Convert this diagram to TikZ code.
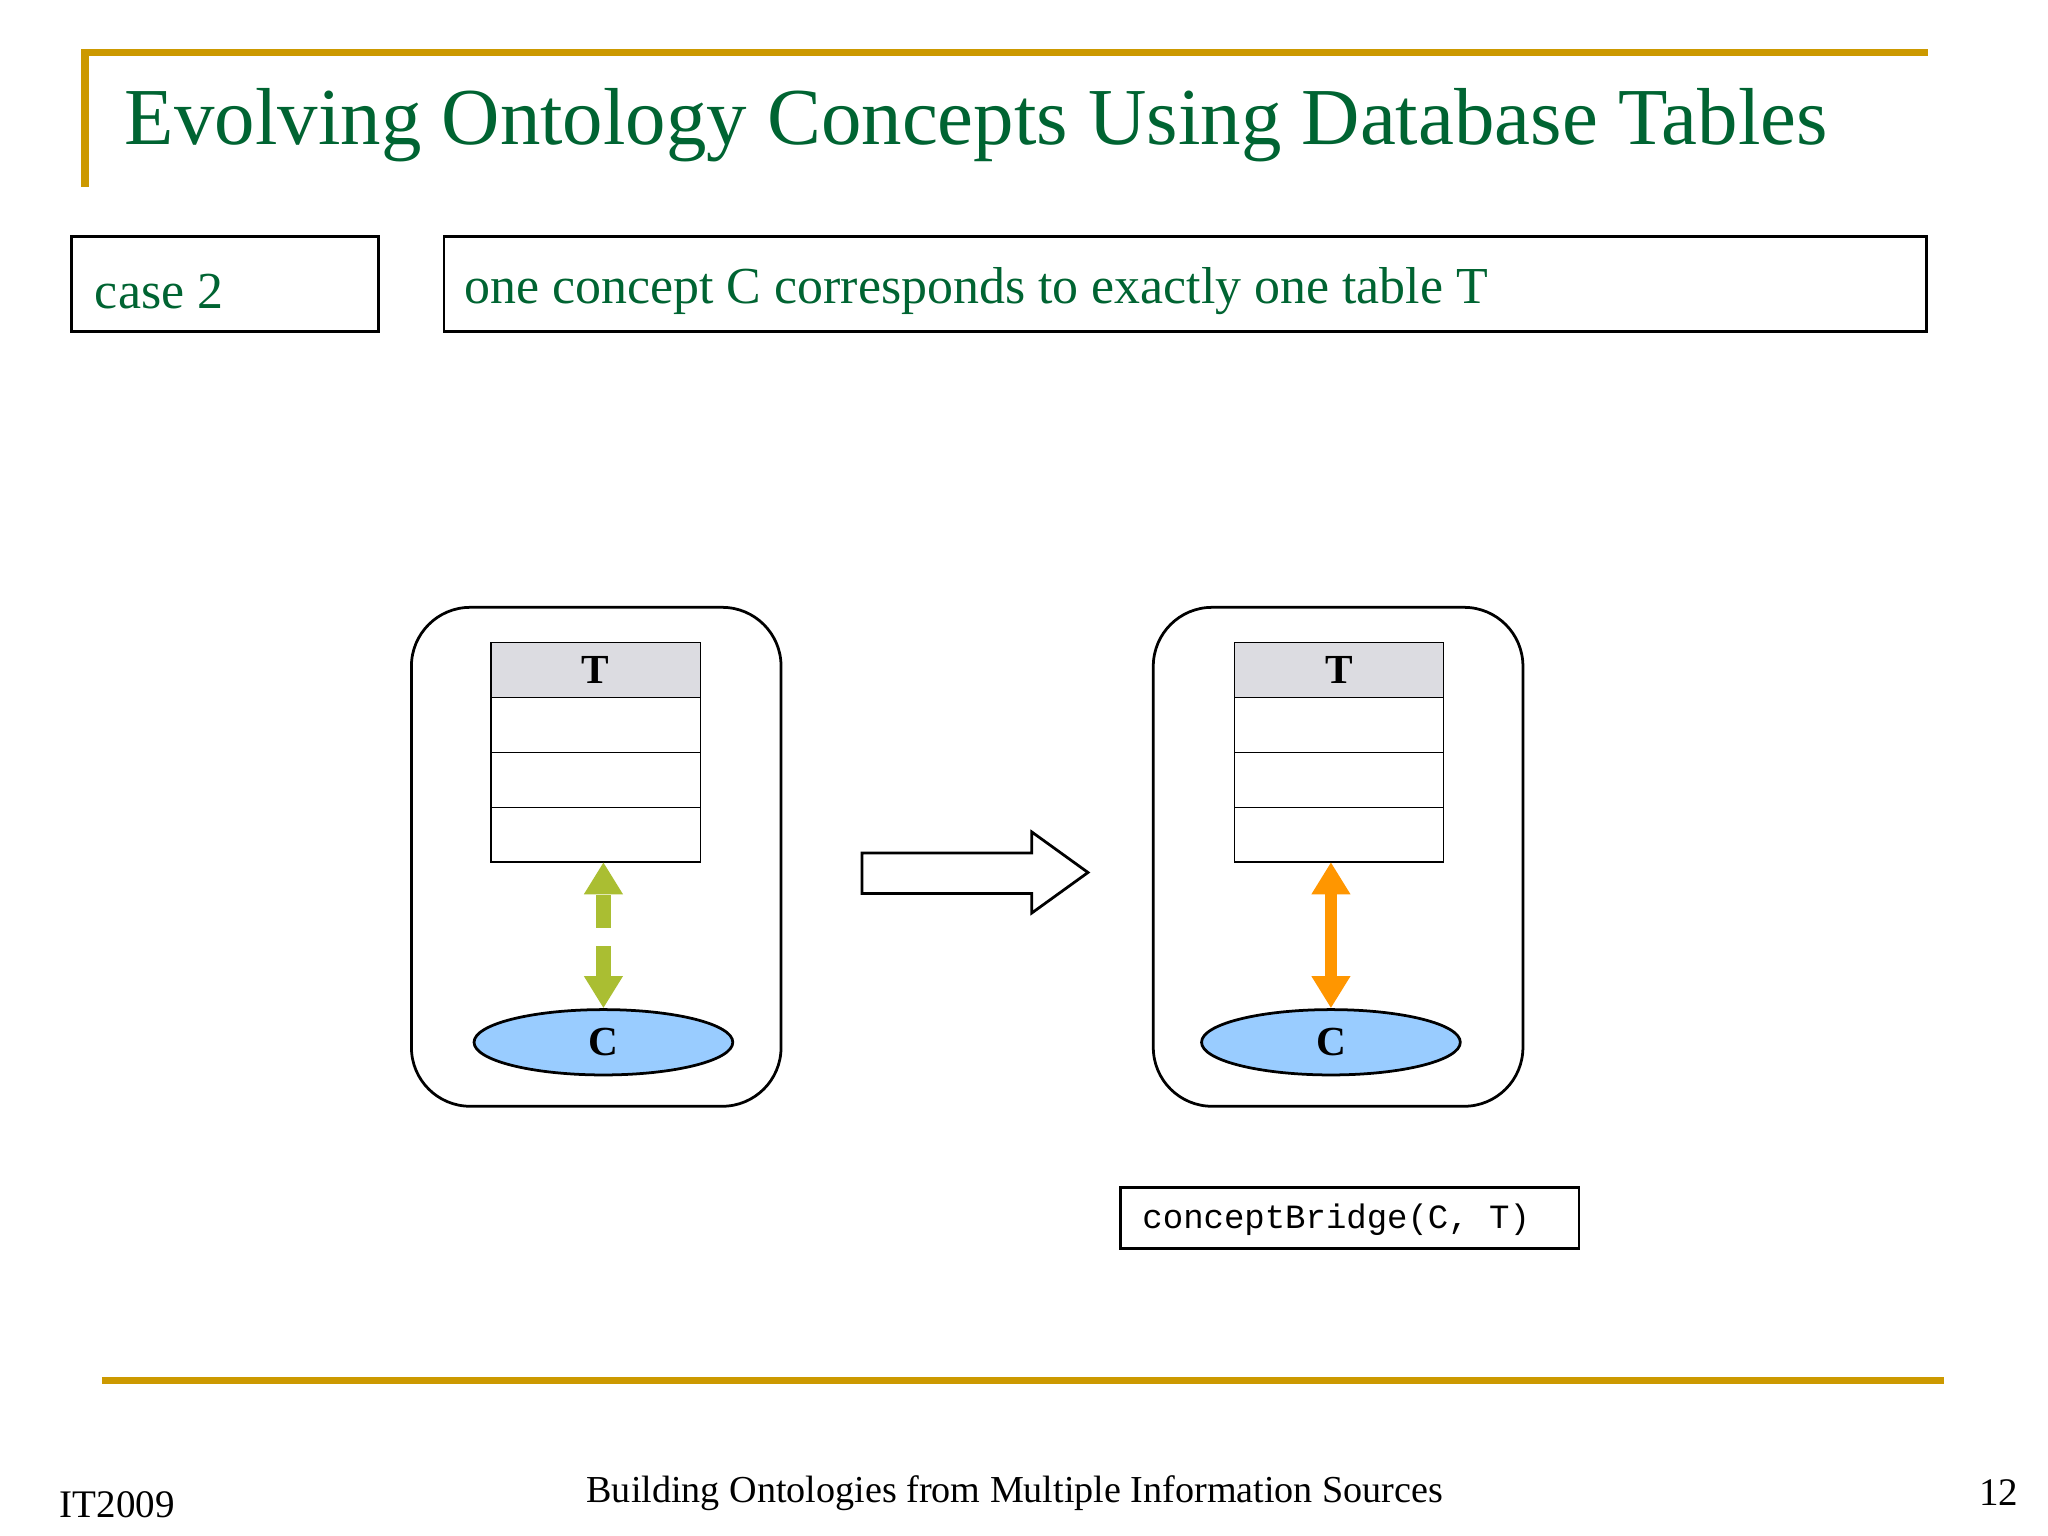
\documentclass[tikz,border=0pt]{standalone}
\usepackage{fontspec}
\setmainfont{Liberation Serif}
\setmonofont{Liberation Mono}
\usetikzlibrary{shapes.geometric,arrows.meta}
\definecolor{ttl}{RGB}{0,100,50}
\definecolor{gold}{RGB}{204,153,0}
\definecolor{cblue}{RGB}{153,204,255}
\definecolor{agreen}{RGB}{170,190,50}
\definecolor{aorange}{RGB}{255,150,0}
\definecolor{hdr}{RGB}{220,220,225}
\begin{document}
\begin{tikzpicture}[x=0.01cm,y=-0.01cm,
  lbl/.style={draw,line width=0.6pt,inner sep=0pt},
  cell/.style={draw,line width=0.3pt,minimum width=1.6cm,minimum height=0.42cm,inner sep=0pt,outer sep=0pt},
  conc/.style={ellipse,draw,fill=cblue,line width=0.6pt,minimum width=1.98cm,minimum height=0.5cm,inner sep=0pt,font=\fontsize{9}{10}\selectfont\bfseries},
  frame/.style={draw,line width=0.6pt,rounded corners=0.45cm},
  tip/.style={{Triangle[length=7pt,width=8pt]}-{Triangle[length=7pt,width=8pt]}}]
\useasboundingbox[fill=white] (0,0) rectangle (1568,1176);
% title decoration
\draw[gold,line width=1.6pt] (65,143) -- (65,40) -- (1476,40);
\node[anchor=west,inner sep=0pt,text=ttl,font=\fontsize{17.6}{20}\selectfont] (title) at (95,96) {Evolving Ontology Concepts Using Database Tables};
\draw[gold,line width=1.6pt] (78,1057) -- (1488,1057);
% labels
\draw[line width=0.6pt] (55,181) rectangle (290,254);
\node[anchor=west,inner sep=0pt,text=ttl,font=\fontsize{11.3}{13}\selectfont] (case) at (72,223) {case 2};
\draw[line width=0.6pt] (340,181) rectangle (1475,254);
\node[anchor=west,inner sep=0pt,text=ttl,font=\fontsize{11.3}{13}\selectfont] (desc) at (355,223) {one concept C corresponds to exactly one table T};
% frames
\draw[frame] (315,465) rectangle (598,847);
\draw[frame] (883,465) rectangle (1166,847);
% tables
\foreach \p/\dx in {L/0,R/569}{
  \node[cell,fill=hdr,font=\fontsize{9}{10}\selectfont\bfseries,anchor=north west] (h\p) at (376+\dx,492) {T};
  \node[cell,anchor=north] (ra\p) at (h\p.south) {};
  \node[cell,anchor=north] (rb\p) at (ra\p.south) {};
  \node[cell,anchor=north] (rc\p) at (rb\p.south) {};
}
\node[conc] (cL) at (462,798) {C};
\node[conc] (cR) at (1019,798) {C};
\draw[agreen,line width=3.2pt,dash pattern=on 7pt off 4pt,tip] (cL.north) -- (cL.north |- rcL.south);
\draw[aorange,line width=2.6pt,tip] (cR.north) -- (cR.north |- rcR.south);
% big arrow
\draw[line width=0.6pt,fill=white] (660,653) -- (790,653) -- (790,637) -- (833,668) -- (790,699) -- (790,684) -- (660,684) -- cycle;
% bridge
\draw[line width=0.6pt] (858,909) rectangle (1209,956);
\node[anchor=west,inner sep=0pt,font=\fontsize{7.4}{9}\selectfont\ttfamily] (br) at (874,934) {conceptBridge(C, T)};
% footer
\node[anchor=west,inner sep=0pt,font=\fontsize{8.5}{10}\selectfont] (ft1) at (45,1152) {IT2009};
\node[inner sep=0pt,font=\fontsize{8.3}{10}\selectfont] (ft2) at (777,1143) {Building Ontologies from Multiple Information Sources};
\node[anchor=east,inner sep=0pt,font=\fontsize{8.5}{10}\selectfont] (ft3) at (1546,1143) {12};
\end{tikzpicture}
\end{document}
